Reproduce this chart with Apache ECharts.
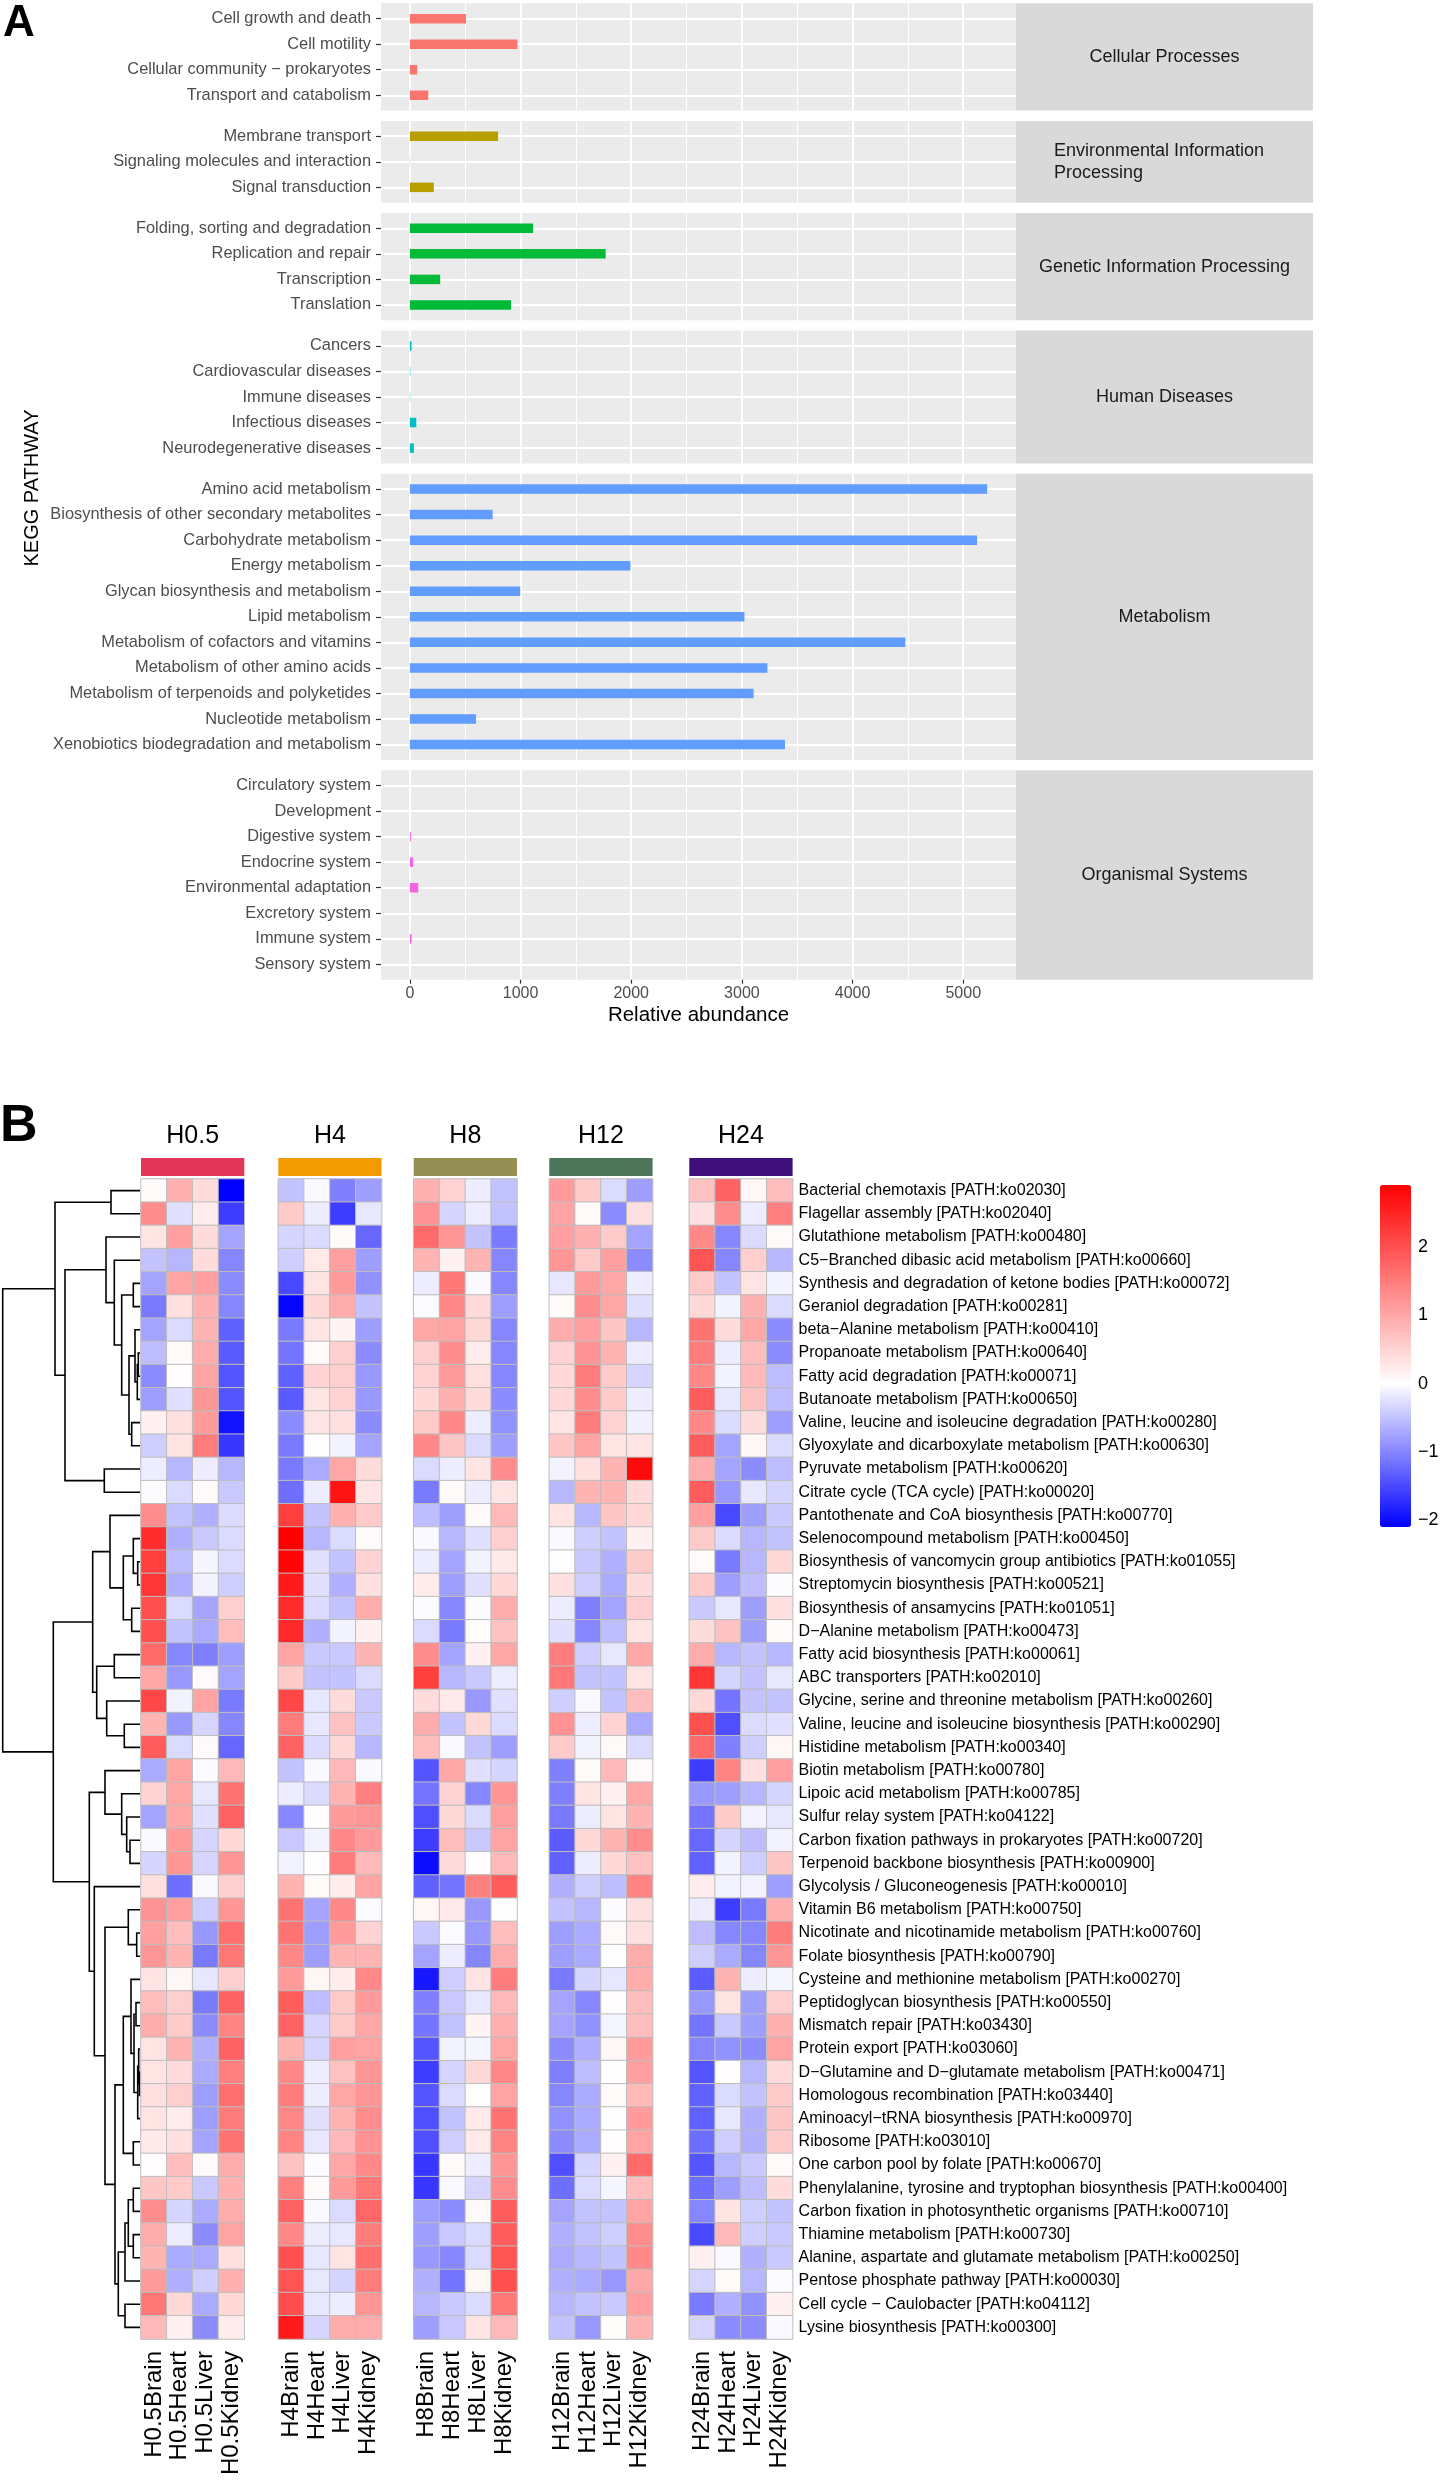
<!DOCTYPE html>
<html><head><meta charset="utf-8">
<script src="https://cdn.jsdelivr.net/npm/echarts@6/dist/echarts.min.js"></script>
<style>html,body{margin:0;padding:0;background:#fff}#c{width:1446px;height:2480px}</style>
</head><body><div id="c"></div>
<script>
// ================= PANEL A DATA =================
const facetNames = ['Cellular Processes', 'Environmental Information\nProcessing', 'Genetic Information Processing', 'Human Diseases', 'Metabolism', 'Organismal Systems'];
const catCellular = ['Cell growth and death', 'Cell motility', 'Cellular community − prokaryotes', 'Transport and catabolism'];
const valCellular = [507, 972, 66, 166];
const catEnvironmental = ['Membrane transport', 'Signaling molecules and interaction', 'Signal transduction'];
const valEnvironmental = [797, 2, 216];
const catGenetic = ['Folding, sorting and degradation', 'Replication and repair', 'Transcription', 'Translation'];
const valGenetic = [1113, 1769, 274, 914];
const catHuman = ['Cancers', 'Cardiovascular diseases', 'Immune diseases', 'Infectious diseases', 'Neurodegenerative diseases'];
const valHuman = [15, 4, 3, 58, 36];
const catMetabolism = ['Amino acid metabolism', 'Biosynthesis of other secondary metabolites', 'Carbohydrate metabolism', 'Energy metabolism', 'Glycan biosynthesis and metabolism', 'Lipid metabolism', 'Metabolism of cofactors and vitamins', 'Metabolism of other amino acids', 'Metabolism of terpenoids and polyketides', 'Nucleotide metabolism', 'Xenobiotics biodegradation and metabolism'];
const valMetabolism = [5216, 748, 5125, 1993, 997, 3023, 4477, 3231, 3106, 598, 3389];
const catOrganismal = ['Circulatory system', 'Development', 'Digestive system', 'Endocrine system', 'Environmental adaptation', 'Excretory system', 'Immune system', 'Sensory system'];
const valOrganismal = [0, 0, 9, 30, 76, 0, 15, 0];
const xTicks = [0, 1000, 2000, 3000, 4000, 5000];
const xMinorTicks = [500, 1500, 2500, 3500, 4500];

// ================= PANEL B DATA =================
const groups = ['H0.5', 'H4', 'H8', 'H12', 'H24'];
const tissues = ['Brain', 'Heart', 'Liver', 'Kidney'];
const pathways = [
 'Bacterial chemotaxis [PATH:ko02030]', 'Flagellar assembly [PATH:ko02040]', 'Glutathione metabolism [PATH:ko00480]',
 'C5−Branched dibasic acid metabolism [PATH:ko00660]', 'Synthesis and degradation of ketone bodies [PATH:ko00072]',
 'Geraniol degradation [PATH:ko00281]', 'beta−Alanine metabolism [PATH:ko00410]', 'Propanoate metabolism [PATH:ko00640]',
 'Fatty acid degradation [PATH:ko00071]', 'Butanoate metabolism [PATH:ko00650]', 'Valine, leucine and isoleucine degradation [PATH:ko00280]',
 'Glyoxylate and dicarboxylate metabolism [PATH:ko00630]', 'Pyruvate metabolism [PATH:ko00620]', 'Citrate cycle (TCA cycle) [PATH:ko00020]',
 'Pantothenate and CoA biosynthesis [PATH:ko00770]', 'Selenocompound metabolism [PATH:ko00450]',
 'Biosynthesis of vancomycin group antibiotics [PATH:ko01055]', 'Streptomycin biosynthesis [PATH:ko00521]',
 'Biosynthesis of ansamycins [PATH:ko01051]', 'D−Alanine metabolism [PATH:ko00473]', 'Fatty acid biosynthesis [PATH:ko00061]',
 'ABC transporters [PATH:ko02010]', 'Glycine, serine and threonine metabolism [PATH:ko00260]',
 'Valine, leucine and isoleucine biosynthesis [PATH:ko00290]', 'Histidine metabolism [PATH:ko00340]', 'Biotin metabolism [PATH:ko00780]',
 'Lipoic acid metabolism [PATH:ko00785]', 'Sulfur relay system [PATH:ko04122]', 'Carbon fixation pathways in prokaryotes [PATH:ko00720]',
 'Terpenoid backbone biosynthesis [PATH:ko00900]', 'Glycolysis / Gluconeogenesis [PATH:ko00010]', 'Vitamin B6 metabolism [PATH:ko00750]',
 'Nicotinate and nicotinamide metabolism [PATH:ko00760]', 'Folate biosynthesis [PATH:ko00790]', 'Cysteine and methionine metabolism [PATH:ko00270]',
 'Peptidoglycan biosynthesis [PATH:ko00550]', 'Mismatch repair [PATH:ko03430]', 'Protein export [PATH:ko03060]',
 'D−Glutamine and D−glutamate metabolism [PATH:ko00471]', 'Homologous recombination [PATH:ko03440]', 'Aminoacyl−tRNA biosynthesis [PATH:ko00970]',
 'Ribosome [PATH:ko03010]', 'One carbon pool by folate [PATH:ko00670]', 'Phenylalanine, tyrosine and tryptophan biosynthesis [PATH:ko00400]',
 'Carbon fixation in photosynthetic organisms [PATH:ko00710]', 'Thiamine metabolism [PATH:ko00730]',
 'Alanine, aspartate and glutamate metabolism [PATH:ko00250]', 'Pentose phosphate pathway [PATH:ko00030]',
 'Cell cycle − Caulobacter [PATH:ko04112]', 'Lysine biosynthesis [PATH:ko00300]'
];
// rows x [Brain, Heart, Liver, Kidney]
const hmH05 = [
 [0.05,0.9,0.4,-2.1],[1.3,-0.25,0.2,-1.6],[0.3,1.1,0.4,-0.75],[-0.5,-0.6,0.4,-1.0],[-0.75,1.05,1.1,-0.95],
 [-1.1,0.35,0.9,-1.0],[-0.75,-0.3,0.85,-1.3],[-0.55,0.05,0.95,-1.35],[-0.95,0.02,1.05,-1.4],[-0.8,-0.25,1.2,-1.4],
 [0.15,0.35,1.15,-1.95],[-0.4,0.3,1.5,-1.65],[-0.15,-0.6,-0.15,-0.6],[-0.02,-0.3,0.05,-0.45],[1.3,-0.5,-0.65,-0.3],
 [2.4,-0.65,-0.45,-0.3],[2.2,-0.55,-0.08,-0.3],[2.3,-0.65,-0.1,-0.4],[2.0,-0.3,-0.75,0.55],[2.0,-0.5,-0.7,0.75],
 [1.7,-1.0,-1.05,-0.8],[1.0,-0.85,0.05,-0.75],[2.1,-0.1,1.05,-1.1],[0.85,-0.85,-0.35,-1.0],[1.85,-0.3,0.05,-1.25],
 [-0.7,1.05,-0.03,0.8],[0.5,1.0,-0.2,1.6],[-0.75,1.0,-0.25,1.8],[-0.05,1.15,-0.35,0.45],[-0.35,1.2,-0.35,1.2],
 [0.35,-1.2,-0.05,0.55],[1.25,1.1,-0.4,1.2],[1.1,0.75,-0.85,1.65],[1.2,0.85,-1.1,1.55],[0.3,0.1,-0.2,0.55],
 [0.75,0.55,-1.1,1.8],[0.95,0.6,-0.95,1.4],[0.3,0.85,-0.65,1.8],[0.3,0.4,-0.7,1.45],[0.35,0.55,-0.8,1.65],
 [0.3,0.2,-0.8,1.5],[0.25,0.35,-0.75,1.6],[0.02,0.75,0.05,0.95],[0.65,0.6,-0.45,0.9],[1.3,-0.35,-0.7,0.95],
 [0.95,-0.15,-0.95,1.05],[0.85,-0.7,-0.7,0.35],[1.15,-0.65,-0.4,0.9],[1.55,0.45,-0.7,0.45],[0.8,0.15,-0.95,0.2]
];
const hmH4 = [
 [-0.5,-0.05,-1.05,-0.8],[0.6,-0.15,-1.6,-0.2],[-0.35,-0.3,0.05,-1.25],[-0.4,0.25,1.1,-0.8],[-1.5,0.3,1.15,-0.9],
 [-2.05,0.45,0.95,-0.5],[-1.1,0.3,0.12,-0.8],[-1.15,0.05,0.55,-0.95],[-1.3,0.5,0.55,-0.85],[-1.35,0.3,0.5,-0.85],
 [-0.95,0.3,0.35,-0.95],[-1.1,0.02,-0.1,-0.75],[-1.1,-0.7,1.0,0.4],[-1.2,-0.15,2.7,0.3],[2.2,-0.5,0.9,0.6],
 [2.91,-0.6,-0.3,0.05],[2.85,-0.25,-0.5,0.5],[2.6,-0.25,-0.65,0.35],[2.4,-0.3,-0.5,0.95],[2.45,-0.65,-0.1,0.15],
 [1.05,-0.45,-0.45,0.85],[0.6,-0.5,-0.5,-0.3],[2.1,-0.2,0.4,-0.45],[1.5,-0.2,0.7,-0.45],[1.8,-0.3,0.45,-0.6],
 [-0.5,-0.05,0.8,-0.05],[-0.15,-0.3,0.85,1.45],[-1.0,0.02,1.15,1.2],[-0.45,-0.1,1.35,1.15],[-0.1,0.02,1.5,0.8],
 [0.85,0.05,0.2,1.05],[1.6,-0.75,1.35,-0.03],[1.6,-0.8,1.15,0.5],[1.35,-0.8,0.85,0.85],[1.15,0.1,0.2,1.35],
 [1.85,-0.55,0.6,1.15],[1.8,-0.35,0.6,1.0],[0.85,-0.35,1.1,1.05],[1.35,-0.15,0.7,1.2],[1.5,-0.15,1.0,1.2],
 [1.35,-0.25,0.85,1.3],[1.4,-0.2,0.8,1.25],[0.7,-0.02,1.0,1.35],[1.45,0.05,1.15,1.55],[1.8,-0.05,-0.3,1.75],
 [1.35,-0.15,-0.2,1.5],[2.0,-0.2,0.3,1.65],[1.95,-0.2,-0.35,1.5],[2.05,-0.2,-0.15,1.2],[2.6,-0.35,0.95,0.95]
];
const hmH8 = [
 [0.9,0.5,-0.15,-0.5],[1.25,-0.35,-0.15,-0.5],[1.7,1.2,-0.5,-1.1],[0.85,0.15,0.85,-1.0],[-0.15,1.55,-0.05,-1.0],
 [-0.03,1.35,0.4,-0.8],[1.0,1.05,0.45,-1.0],[0.55,1.3,0.2,-1.0],[0.5,1.15,0.35,-1.0],[0.45,0.9,0.4,-0.95],
 [0.6,1.35,-0.15,-0.9],[1.35,0.65,-0.3,-0.8],[-0.3,-0.15,0.3,1.3],[-1.1,0.05,-0.15,0.3],[-0.55,-0.8,0.05,0.8],
 [-0.05,-0.6,-0.25,0.55],[-0.15,-0.75,-0.1,0.25],[0.2,-0.8,-0.25,0.45],[-0.02,-1.0,-0.02,0.95],[-0.3,-1.1,0.03,0.7],
 [1.3,-0.75,0.15,1.0],[2.2,-0.6,-0.45,-0.15],[0.4,0.25,-0.85,-0.25],[0.95,-0.5,0.45,-0.3],[0.75,-0.05,-0.5,-0.8],
 [-1.4,1.0,-0.25,-0.35],[-1.15,0.5,-1.0,1.2],[-1.45,0.45,-0.3,1.1],[-1.6,0.75,-0.45,1.05],[-2.0,0.4,0.02,0.8],
 [-1.3,-1.15,1.45,1.85],[0.1,0.25,-0.85,0.01],[-0.45,-0.03,-0.85,0.75],[-0.75,-0.15,-1.0,0.95],[-1.9,-0.4,0.3,1.5],
 [-1.05,-0.45,-0.2,0.8],[-1.15,-0.5,0.12,0.9],[-1.4,-0.1,-0.08,1.0],[-1.6,-0.35,0.45,1.35],[-1.4,-0.3,0.03,1.05],
 [-1.45,-0.5,0.25,1.6],[-1.45,-0.4,0.25,1.4],[-1.65,0.05,-0.15,1.2],[-1.65,-0.05,-0.35,1.3],[-0.8,-0.95,0.05,1.85],
 [-0.8,-0.45,-0.3,1.85],[-0.85,-1.0,-0.3,1.95],[-0.65,-1.15,0.1,2.0],[-0.6,-0.45,-0.3,1.55],[-0.8,-0.45,0.3,0.8]
];
const hmH12 = [
 [1.15,0.6,-0.3,-0.8],[1.05,0.05,-0.95,0.35],[1.1,0.9,0.6,-0.75],[1.2,0.6,1.1,-0.95],[-0.2,1.15,1.0,-0.15],
 [0.05,1.3,1.0,-0.25],[0.95,1.1,0.65,-0.6],[0.5,1.25,0.85,-0.15],[0.45,1.5,0.6,-0.35],[0.45,1.3,0.6,-0.15],
 [0.3,1.5,0.5,-0.12],[0.65,1.05,0.3,0.3],[-0.1,0.35,0.85,2.8],[-0.6,0.85,0.85,0.4],[0.3,-0.6,0.65,0.45],
 [-0.05,-0.4,-0.5,0.15],[0.0,-0.45,-0.65,0.6],[0.35,-0.4,-0.7,0.4],[-0.15,-1.05,-0.75,0.55],[-0.25,-1.0,-0.55,0.3],
 [1.5,-0.4,-0.2,1.0],[1.55,-0.5,-0.5,0.3],[-0.4,-0.05,-0.5,0.75],[1.25,-0.15,0.5,-0.7],[0.6,-0.1,0.05,-0.3],
 [-1.05,0.05,0.8,0.05],[-1.05,0.3,0.15,1.0],[-1.1,-0.15,0.3,0.85],[-1.35,0.45,0.85,1.3],[-1.3,-0.15,0.45,0.7],
 [-0.65,-0.4,-0.55,1.4],[-0.5,-0.6,-0.02,0.35],[-0.8,-0.7,0.05,0.35],[-0.8,-0.7,0.01,0.95],[-1.1,-0.35,-0.2,0.95],
 [-0.75,-1.0,0.02,0.75],[-0.75,-0.9,-0.08,0.75],[-0.95,-0.65,0.1,1.15],[-1.05,-0.55,0.01,1.1],[-1.0,-0.7,0.05,0.8],
 [-0.9,-0.7,0.01,1.15],[-0.95,-0.7,0.02,1.05],[-1.45,-0.35,0.15,1.7],[-1.2,-0.3,-0.08,0.75],[-0.75,-0.5,-0.5,1.05],
 [-0.65,-0.5,-0.4,1.3],[-0.7,-0.6,-0.5,1.35],[-0.65,-0.7,-0.85,1.0],[-0.6,-0.5,-0.45,1.1],[-0.5,-0.85,0.03,0.85]
];
const hmH24 = [
 [0.7,1.8,0.1,0.75],[0.35,1.3,-0.15,1.45],[1.35,-1.0,-0.3,0.05],[1.95,-1.0,0.55,-0.6],[0.6,-0.5,0.3,-0.1],
 [0.45,-0.1,0.9,-0.3],[1.6,0.4,1.0,-0.95],[1.5,-0.15,0.75,-0.95],[1.35,-0.1,0.8,-0.55],[1.85,-0.2,0.7,-0.55],
 [1.35,-0.3,0.4,-0.8],[1.85,-0.75,0.1,-0.3],[0.95,-0.75,-0.95,-0.55],[1.85,-0.85,-0.2,-0.35],[1.1,-1.5,-0.8,-0.45],
 [0.6,-0.3,-0.6,-0.5],[0.05,-1.1,-0.6,0.45],[0.6,-0.8,-0.55,-0.02],[-0.45,-0.2,-0.8,0.35],[0.4,0.7,-0.8,0.05],
 [0.95,-0.6,-0.5,-0.6],[2.3,-0.35,-0.5,-0.2],[0.45,-1.15,-0.5,-0.5],[2.0,-1.45,-0.3,-0.25],[1.7,-1.05,-0.4,0.1],
 [-1.6,1.4,0.35,1.1],[-0.85,-0.8,-0.6,-0.35],[-1.15,0.6,-0.1,-0.2],[-1.25,-0.35,-0.55,-0.1],[-1.3,-0.1,-0.4,0.65],
 [0.2,-0.1,-0.1,-0.8],[-0.15,-1.6,-1.1,0.9],[-0.55,-1.0,-1.0,1.5],[-0.4,-0.7,-1.0,1.2],[-1.35,0.85,-0.15,-0.08],
 [-0.85,0.3,-0.8,0.55],[-1.15,-0.45,-0.8,0.9],[-1.0,-0.9,-0.95,1.05],[-1.4,0.02,-0.6,0.4],[-1.3,-0.3,-0.5,0.6],
 [-1.3,-0.2,-0.65,0.65],[-1.2,-0.4,-0.65,0.6],[-1.4,-0.6,-0.45,0.05],[-1.2,-0.8,-0.55,0.4],[-1.0,0.3,-0.4,-0.5],
 [-1.5,0.8,-0.4,-0.45],[0.15,-0.05,-0.65,-0.45],[-0.35,0.05,-0.6,-0.03],[-1.1,-0.65,-0.9,0.15],[-0.35,-0.95,-0.95,-0.05]
];
// row dendrogram merges: [left, right, height]; negative = leaf (row number), positive = earlier merge number
const dendroMerges = [
 [-1,-2,29],[-5,-6,6.7],[-8,-9,1.7],[3,-10,2.7],[-7,4,5],[-11,-12,8.3],[5,6,11],[2,7,18.3],[-4,8,25.7],[-3,9,34],
 [-13,-14,35.7],[10,11,75],[1,12,85],
 [-17,-18,2.3],[-16,14,6.7],[-19,-20,8.3],[15,16,16.7],[-15,17,30],[-24,-25,15.7],[-23,19,33.3],[-21,-22,25.7],[21,20,43.3],[18,22,47.3],
 [-29,-30,10],[-28,24,13.3],[-27,25,18.3],[-26,26,35],[-33,-34,3.3],[-32,28,11.7],[-36,-37,4],[-39,-40,0.7],[-38,31,1.3],[32,-41,2.3],
 [30,33,6],[-35,34,9],[-42,-43,6.7],[35,36,16.7],[-44,-45,6.7],[-46,-47,6.7],[38,39,11.7],[40,-48,15],[-49,-50,15],[41,42,21.7],
 [37,43,25],[29,44,35],[-31,45,45.7],[27,46,50.7],[23,47,86.7],[13,48,137.3]
];

// ================= STYLE / LAYOUT =================
const FONT = '"Liberation Sans", Arial, Helvetica, sans-serif';
const facetCats = [catCellular, catEnvironmental, catGenetic, catHuman, catMetabolism, catOrganismal];
const facetVals = [valCellular, valEnvironmental, valGenetic, valHuman, valMetabolism, valOrganismal];
const facetColors = ['#F8766D', '#B79F00', '#00BA38', '#00BFC4', '#619CFF', '#F564E3'];
const groupColors = ['#E2365B', '#F29B00', '#958F56', '#4C755A', '#3E0E7B'];
const A_LEFT = 381, A_RIGHT = 1016, STRIP_RIGHT = 1313, UNIT = 25.55, GAP = 10.3, A_TOP = 3.3;

const gridList = [], xAxisList = [], yAxisList = [], seriesList = [], graphics = [];
const vmax = Math.max(...[].concat(...facetVals));
const xMin = -0.05 * vmax, xMax = 1.05 * vmax;

let panelTop = A_TOP;
facetCats.forEach((cats, f) => {
  const n = cats.length, h = (n + 0.2) * UNIT, last = f === facetCats.length - 1;
  const gBg = gridList.length;
  gridList.push({left: A_LEFT, top: panelTop, width: A_RIGHT - A_LEFT, height: h, show: true, backgroundColor: '#EBEBEB', borderWidth: 0});
  const gBar = gridList.length;
  gridList.push({left: A_LEFT, top: panelTop + 0.6 * UNIT, width: A_RIGHT - A_LEFT, height: (n - 1) * UNIT, show: false});
  xAxisList.push({gridIndex: gBg, type: 'value', min: xMin, max: xMax, position: 'bottom',
    axisLine: {show: false, onZero: false},
    axisTick: {show: last, customValues: xTicks, length: 4, lineStyle: {color: '#333333', width: 1.2}},
    axisLabel: {show: last, customValues: xTicks, fontSize: 16, color: '#4D4D4D', margin: 6, fontFamily: FONT,
      formatter: v => String(v)},
    splitLine: {show: true, lineStyle: {color: '#FFFFFF', width: 2}}});
  xAxisList.push({gridIndex: gBg, type: 'value', min: xMin, max: xMax, position: 'top',
    axisLine: {show: false, onZero: false}, axisTick: {show: false, customValues: xMinorTicks},
    axisLabel: {show: false, customValues: xMinorTicks},
    splitLine: {show: true, lineStyle: {color: '#FFFFFF', width: 1}}});
  const xBar = xAxisList.length;
  xAxisList.push({gridIndex: gBar, type: 'value', min: xMin, max: xMax, show: false, axisLine: {onZero: false}});
  yAxisList.push({gridIndex: gBg, type: 'value', min: 0, max: 1, show: false, axisLine: {onZero: false}});
  const yBar = yAxisList.length;
  yAxisList.push({gridIndex: gBar, type: 'category', data: cats, inverse: true, boundaryGap: false, position: 'left',
    axisLine: {show: false, onZero: false},
    axisTick: {show: true, interval: 0, length: 5, lineStyle: {color: '#333333', width: 1.2}},
    axisLabel: {interval: 0, fontSize: 16.4, color: '#4D4D4D', margin: 10, fontFamily: FONT},
    splitLine: {show: true, interval: 0, lineStyle: {color: '#FFFFFF', width: 2}}});
  seriesList.push({type: 'bar', xAxisIndex: xBar, yAxisIndex: yBar, data: facetVals[f].map(v => (v === 0 ? null : v)), barWidth: 9.5,
    itemStyle: {color: facetColors[f], borderWidth: 0}, clip: false, silent: true});
  graphics.push({type: 'rect', shape: {x: A_RIGHT, y: panelTop, width: STRIP_RIGHT - A_RIGHT, height: h}, style: {fill: '#D9D9D9'}, silent: true});
  const multi = facetNames[f].indexOf('\n') >= 0;
  graphics.push({type: 'text', x: multi ? 1054 : (A_RIGHT + STRIP_RIGHT) / 2, y: panelTop + h / 2, silent: true,
    style: {text: facetNames[f], fontSize: 18, fontFamily: FONT, fill: '#1A1A1A', align: multi ? 'left' : 'center', verticalAlign: 'middle', lineHeight: 22}});
  panelTop += h + GAP;
});
graphics.push({type: 'text', x: (A_LEFT + A_RIGHT) / 2, y: 1015, silent: true,
  style: {text: 'Relative abundance', fontSize: 20.5, fontFamily: FONT, fill: '#000', align: 'center', verticalAlign: 'middle'}});
graphics.push({type: 'text', x: 32, y: 488, rotation: Math.PI / 2, silent: true,
  style: {text: 'KEGG PATHWAY', fontSize: 20, fontFamily: FONT, fill: '#000', align: 'center', verticalAlign: 'middle'}});
graphics.push({type: 'text', x: 3, y: 24, silent: true,
  style: {text: 'A', fontSize: 44, fontWeight: 'bold', fontFamily: FONT, fill: '#000', align: 'left', verticalAlign: 'middle'}});
graphics.push({type: 'text', x: 0, y: 1127, silent: true,
  style: {text: 'B', fontSize: 52, fontWeight: 'bold', fontFamily: FONT, fill: '#000', align: 'left', verticalAlign: 'middle'}});

// ================= PANEL B =================
const HM_TOP = 1179, HM_H = 1160, HM_W = 103.3;
const hmLefts = [141, 278.3, 413.7, 549.3, 689.3];
const hmAll = [hmH05, hmH4, hmH8, hmH12, hmH24];
const flat = [].concat(...hmAll.map(g => [].concat(...g)));
const hmMin = Math.min(...flat), hmMax = Math.max(...flat);
const colorStops = [];
for (let i = 0; i <= 100; i++) {
  const v = hmMin + (hmMax - hmMin) * i / 100;
  let r, g, b;
  if (v >= 0) { const t = v / hmMax; r = 255; g = b = Math.round(255 * (1 - t)); }
  else { const t = v / hmMin; r = g = Math.round(255 * (1 - t)); b = 255; }
  colorStops.push('rgb(' + r + ',' + g + ',' + b + ')');
}
const hmSeriesIdx = [];
groups.forEach((gname, k) => {
  const gi = gridList.length;
  gridList.push({left: hmLefts[k], top: HM_TOP, width: HM_W, height: HM_H, show: false});
  const xi = xAxisList.length;
  xAxisList.push({gridIndex: gi, type: 'category', data: tissues.map(t => gname + t), position: 'bottom',
    axisLine: {show: false}, axisTick: {show: false}, splitLine: {show: false},
    axisLabel: {interval: 0, rotate: 90, fontSize: 24, color: '#000', margin: 12, fontFamily: FONT}});
  const yi = yAxisList.length;
  const lastG = k === groups.length - 1;
  yAxisList.push({gridIndex: gi, type: 'category', data: pathways, inverse: true, position: 'right',
    axisLine: {show: false}, axisTick: {show: false}, splitLine: {show: false},
    axisLabel: {show: lastG, interval: 0, fontSize: 16, color: '#000', margin: 6, fontFamily: FONT}});
  const data = [];
  hmAll[k].forEach((row, r) => row.forEach((v, j) => data.push([j, r, v])));
  hmSeriesIdx.push(seriesList.length);
  seriesList.push({type: 'heatmap', xAxisIndex: xi, yAxisIndex: yi, data: data, silent: true, progressive: 0,
    itemStyle: {borderColor: '#BDBDBD', borderWidth: 1}, emphasis: {disabled: true}});
  seriesList.push({type: 'custom', xAxisIndex: xi, yAxisIndex: yi, data: [[0, 0]], clip: false, silent: true,
    renderItem: (params, api) => {
      const cs = params.coordSys;
      return {type: 'group', children: [
        {type: 'rect', shape: {x: cs.x, y: cs.y - 21, width: cs.width, height: 18}, style: {fill: groupColors[k]}},
        {type: 'text', style: {text: gname, x: cs.x + cs.width / 2, y: cs.y - 43, align: 'center', verticalAlign: 'middle',
          fontSize: 25, fill: '#000', fontFamily: FONT}}
      ]};
    }});
});

// dendrogram
const nodeY = [], nodeH = [], segs = [];
dendroMerges.forEach(([a, b, h], idx) => {
  const ya = a < 0 ? -a - 1 : nodeY[a - 1], ha = a < 0 ? 0 : nodeH[a - 1];
  const yb = b < 0 ? -b - 1 : nodeY[b - 1], hb = b < 0 ? 0 : nodeH[b - 1];
  segs.push({coords: [[ha, ya], [h, ya], [h, yb], [hb, yb]]});
  nodeY[idx] = (ya + yb) / 2; nodeH[idx] = h;
});
const rootH = Math.max(...nodeH);
{
  const gi = gridList.length;
  gridList.push({left: 140 - rootH, top: HM_TOP, width: rootH, height: HM_H, show: false});
  const xi = xAxisList.length;
  xAxisList.push({gridIndex: gi, type: 'value', min: 0, max: rootH, inverse: true, show: false});
  const yi = yAxisList.length;
  yAxisList.push({gridIndex: gi, type: 'value', min: -0.5, max: pathways.length - 0.5, inverse: true, show: false});
  seriesList.push({type: 'lines', coordinateSystem: 'cartesian2d', xAxisIndex: xi, yAxisIndex: yi, polyline: true,
    data: segs, silent: true, lineStyle: {color: '#000', width: 1.6, opacity: 1}});
}
// colour key axis
{
  const gi = gridList.length;
  gridList.push({left: 1380, top: 1185, width: 31, height: 342, show: false});
  xAxisList.push({gridIndex: gi, type: 'value', show: false, min: 0, max: 1});
  yAxisList.push({gridIndex: gi, type: 'value', min: hmMin, max: hmMax, position: 'right',
    axisLine: {show: false}, axisTick: {show: false}, splitLine: {show: false},
    axisLabel: {customValues: [-2, -1, 0, 1, 2], fontSize: 18, color: '#000', margin: 7, fontFamily: FONT,
      formatter: v => (v < 0 ? '\u2212' : '') + Math.abs(v)}});
}

const chart = echarts.init(document.getElementById('c'), null, {renderer: 'canvas'});
chart.setOption({
  animation: false,
  backgroundColor: '#FFFFFF',
  textStyle: {fontFamily: FONT},
  grid: gridList, xAxis: xAxisList, yAxis: yAxisList, series: seriesList,
  visualMap: {type: 'continuous', min: hmMin, max: hmMax, seriesIndex: hmSeriesIdx, orient: 'vertical',
    left: 1380, top: 1185, itemWidth: 31, itemHeight: 342, calculable: false, padding: 0, hoverLink: false,
    inRange: {color: colorStops}},
  graphic: {elements: graphics}
});
</script>
</body></html>
